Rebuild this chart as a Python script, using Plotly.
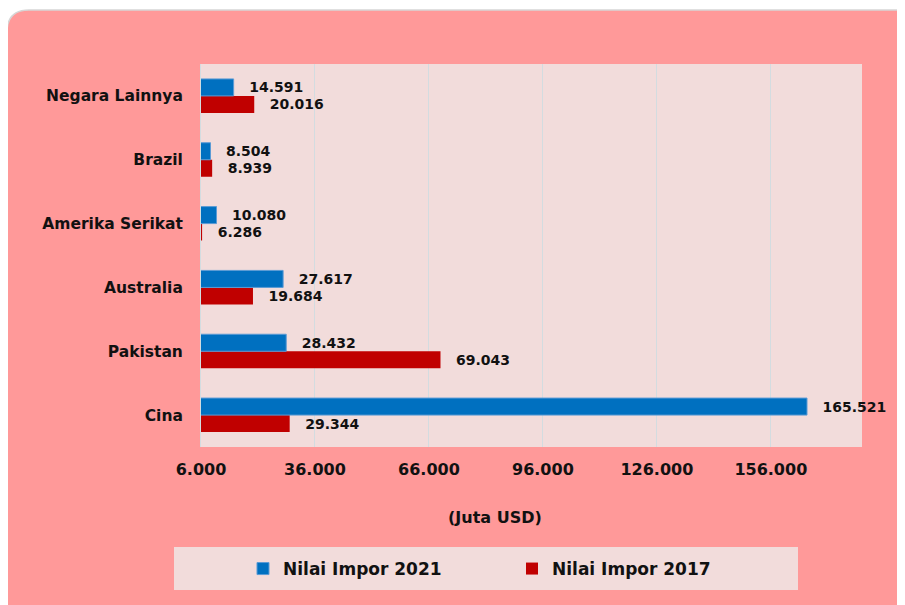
import plotly.graph_objects as go

categories = ["Cina", "Pakistan", "Australia", "Amerika Serikat", "Brazil", "Negara Lainnya"]
impor_2021 = [165521, 28432, 27617, 10080, 8504, 14591]
impor_2017 = [29344, 69043, 19684, 6286, 8939, 20016]
tick_vals = [6000, 36000, 66000, 96000, 126000, 156000]

W, H = 905, 605
OFF = 8  # page body margin offset
L, R, T, B = 201 - OFF, 862 - OFF, 64 - OFF, 447 - OFF

def px(x):
    return (x - OFF - L) / (R - L)

def py(y):
    return (B - (y - OFF)) / (B - T)

FONT = "DejaVu Sans"
TXT = "#111111"
NB = "\u00a0\u00a0\u2009"

fig = go.Figure()
fig.add_trace(go.Bar(
    name="Nilai Impor 2017", y=categories, x=impor_2017, orientation="h",
    marker=dict(color="#C00000", line=dict(width=0)),
    texttemplate=NB + "%{x:,d}", textposition="outside", cliponaxis=False,
    constraintext="none",
    textfont=dict(family=FONT, size=14, color=TXT, weight="bold"),
    legendrank=2,
))
fig.add_trace(go.Bar(
    name="Nilai Impor 2021", y=categories, x=impor_2021, orientation="h",
    marker=dict(color="#0070C0", line=dict(width=1, color="#5B9BD5")),
    texttemplate=NB + "%{x:,d}", textposition="outside", cliponaxis=False,
    constraintext="none",
    textfont=dict(family=FONT, size=14, color=TXT, weight="bold"),
    legendrank=1,
))

r = 22
bg_path = (f"M {px(7)},{py(10 + r)} Q {px(7)},{py(10)} {px(7 + r)},{py(10)} "
           f"L {px(930)},{py(10)} L {px(930)},{py(630)} L {px(7)},{py(630)} Z")

fig.update_layout(
    width=W, height=H,
    margin=dict(l=L, r=W - R, t=T, b=H - B, pad=0),
    paper_bgcolor="#FFFFFF",
    plot_bgcolor="#F2DCDB",
    separators=",.",
    barmode="group", bargap=0.467, bargroupgap=0,
    font=dict(family=FONT, color=TXT),
    xaxis=dict(
        range=[6000, 180000], tickmode="array", tickvals=tick_vals,
        tickformat=",d", showgrid=True, gridcolor="#D3DCE0", gridwidth=1,
        zeroline=False, showline=False, ticks="",
        ticklabelstandoff=11,
        tickfont=dict(family=FONT, size=16, color=TXT, weight="bold"),
    ),
    yaxis=dict(
        showgrid=False, zeroline=False, showline=True, linecolor="#D3DCE0",
        ticks="", ticklabelstandoff=14,
        tickfont=dict(family=FONT, size=15.5, color=TXT, weight="bold"),
    ),
    showlegend=True,
    legend=dict(
        orientation="h", x=px(243), xanchor="left", y=py(569), yanchor="middle",
        bgcolor="rgba(0,0,0,0)", borderwidth=0,
        entrywidth=224, entrywidthmode="pixels",
        font=dict(family=FONT, size=17, color=TXT, weight="bold"),
    ),
    shapes=[
        dict(type="path", xref="paper", yref="paper", path=bg_path,
             fillcolor="#FF9999", line=dict(color="#D6D6D6", width=1.5), layer="below"),
        dict(type="rect", xref="paper", yref="paper", x0=0, x1=1, y0=0, y1=1,
             fillcolor="#F2DCDB", line=dict(width=0), layer="below"),
        dict(type="rect", xref="paper", yref="paper",
             x0=px(174), x1=px(798), y0=py(590), y1=py(547),
             fillcolor="#F2DCDB", line=dict(width=0), layer="below"),
    ],
    annotations=[
        dict(text="(Juta USD)", xref="paper", yref="paper", x=px(495), y=py(517),
             xanchor="center", yanchor="middle", showarrow=False,
             font=dict(family=FONT, size=16, color=TXT, weight="bold")),
    ],
)

fig.write_html("out.html")
